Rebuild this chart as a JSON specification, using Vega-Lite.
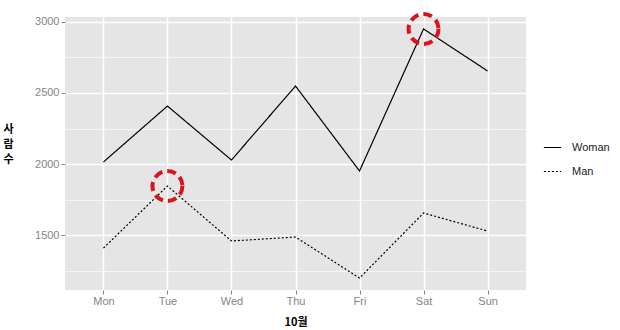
{
  "$schema": "https://vega.github.io/schema/vega-lite/v6.json",
  "autosize": {"type": "none"},
  "width": 461,
  "height": 273,
  "padding": {"left": 65, "top": 17, "right": 94, "bottom": 40},
  "background": "white",
  "config": {
    "view": {"fill": "#e5e5e5", "stroke": null},
    "font": "Liberation Sans",
    "axis": {
      "labelColor": "#858585",
      "labelFontSize": 11,
      "tickColor": "#858585",
      "tickSize": 4,
      "domain": false,
      "gridColor": "white",
      "titleFont": "Noto Sans CJK KR",
      "titleFontWeight": "bold",
      "titleFontSize": 11,
      "titleColor": "black"
    }
  },
  "data": {
    "values": [
      {"day": "Mon", "gender": "Woman", "count": 2014, "highlight": false},
      {"day": "Tue", "gender": "Woman", "count": 2408, "highlight": false},
      {"day": "Wed", "gender": "Woman", "count": 2028, "highlight": false},
      {"day": "Thu", "gender": "Woman", "count": 2549, "highlight": false},
      {"day": "Fri", "gender": "Woman", "count": 1951, "highlight": false},
      {"day": "Sat", "gender": "Woman", "count": 2951, "highlight": true},
      {"day": "Sun", "gender": "Woman", "count": 2655, "highlight": false},
      {"day": "Mon", "gender": "Man", "count": 1408, "highlight": false},
      {"day": "Tue", "gender": "Man", "count": 1845, "highlight": true},
      {"day": "Wed", "gender": "Man", "count": 1458, "highlight": false},
      {"day": "Thu", "gender": "Man", "count": 1486, "highlight": false},
      {"day": "Fri", "gender": "Man", "count": 1197, "highlight": false},
      {"day": "Sat", "gender": "Man", "count": 1655, "highlight": false},
      {"day": "Sun", "gender": "Man", "count": 1528, "highlight": false}
    ]
  },
  "encoding": {
    "x": {
      "field": "day", "type": "ordinal",
      "sort": ["Mon", "Tue", "Wed", "Thu", "Fri", "Sat", "Sun"],
      "scale": {"type": "point", "padding": 0.6}
    },
    "y": {
      "field": "count", "type": "quantitative",
      "scale": {"domain": [1113, 3035], "nice": false, "zero": false}
    }
  },
  "layer": [
    {
      "mark": {"type": "line", "opacity": 0},
      "encoding": {
        "detail": {"field": "gender"},
        "x": {
          "field": "day", "type": "ordinal",
          "sort": ["Mon", "Tue", "Wed", "Thu", "Fri", "Sat", "Sun"],
          "scale": {"type": "point", "padding": 0.6},
          "axis": {"grid": true, "gridWidth": 1.5, "labelPadding": 1, "title": "10월", "titleFontSize": 11, "titlePadding": 10, "labelAngle": 0}
        },
        "y": {
          "field": "count", "type": "quantitative",
          "scale": {"domain": [1113, 3035], "nice": false, "zero": false},
          "axis": {"values": [1250, 1750, 2250, 2750], "grid": true, "gridWidth": 0.6, "labels": false, "ticks": false, "title": null, "orient": "left"}
        }
      }
    },
    {
      "mark": {"type": "line", "color": "black", "strokeWidth": 1.2},
      "encoding": {
        "y": {
          "field": "count", "type": "quantitative",
          "scale": {"domain": [1113, 3035], "nice": false, "zero": false},
          "axis": {
            "values": [1500, 2000, 2500, 3000], "format": "d", "grid": true, "gridWidth": 1.5,
            "labelPadding": 2, "orient": "left",
            "title": ["사", "람", "수"], "titleAngle": 0, "titleAlign": "center",
            "titleBaseline": "middle", "titleX": -57, "titleY": 112, "titleLineHeight": 15
          }
        },
        "strokeDash": {
          "field": "gender", "type": "nominal",
          "scale": {"domain": ["Woman", "Man"], "range": [[1, 0], [2, 2]]},
          "legend": {
            "title": null, "orient": "none", "legendX": 478, "legendY": 121,
            "symbolType": "stroke", "symbolSize": 300, "symbolStrokeColor": "black",
            "symbolStrokeWidth": 1.2, "labelFontSize": 11, "labelColor": "#222222",
            "rowPadding": 9, "labelOffset": 10
          }
        }
      }
    },
    {
      "transform": [{"filter": "datum.highlight"}],
      "mark": {"type": "point", "shape": "circle", "filled": false, "stroke": "#d9141c", "strokeWidth": 4, "strokeDash": [9, 5], "size": 900, "opacity": 1},
      "encoding": {
        "y": {
          "field": "count", "type": "quantitative",
          "scale": {"domain": [1113, 3035], "nice": false, "zero": false},
          "axis": null
        }
      }
    }
  ],
  "resolve": {"axis": {"y": "independent"}}
}
